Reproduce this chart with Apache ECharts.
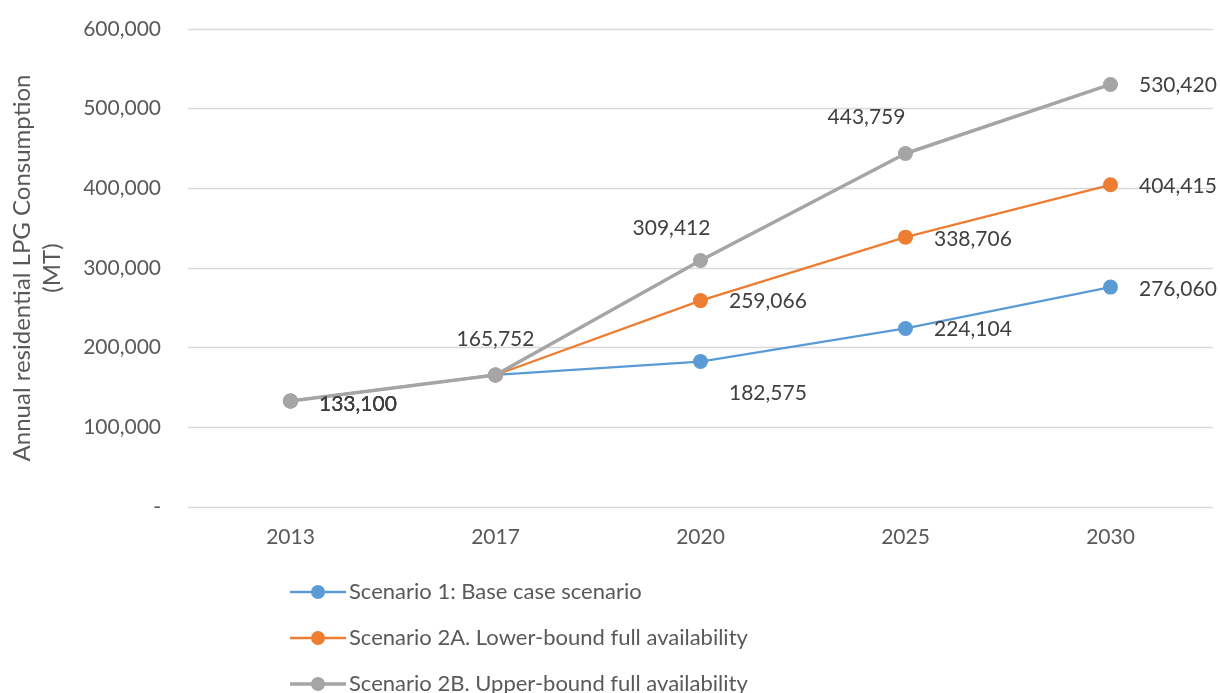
<!DOCTYPE html>
<html><head><meta charset="utf-8">
<script src="https://cdn.jsdelivr.net/npm/echarts@6/dist/echarts.min.js"></script>
<style>html,body{margin:0;padding:0;background:#fff}#c{width:1220px;height:693px}</style>
</head><body><div id="c"></div>
<script>
const categories = ['2013', '2017', '2020', '2025', '2030'];
const seriesNames = ['Scenario 1: Base case scenario', 'Scenario 2A. Lower-bound full availability', 'Scenario 2B. Upper-bound full availability'];
const scenario1 = [133100, 165752, 182575, 224104, 276060];
const scenario2A = [133100, 165752, 259066, 338706, 404415];
const scenario2B = [133100, 165752, 309412, 443759, 530420];
const yMin = 0, yMax = 600000, yStep = 100000;

const FONT = 'Lato';
const NUM = 21;
const fmt = v => v === 0 ? '-' : v.toLocaleString('en-US');

// label placements per series/point
const R = (dy) => ({ position: 'right', distance: 21, offset: [0, dy] });
const T = (dx, d) => ({ position: 'top', distance: d, offset: [dx, 0] });
const NONE = null;
const labelPlans = [
  [R(3), T(0, 18), R(32), R(1), R(2)],
  [R(3), NONE, R(1), R(2), R(1)],
  [R(3), NONE, T(-29, 14), T(-39, 18), R(1)]
];
const colors = ['#5B9BD5', '#ED7D31', '#A5A5A5'];
const widths = [2.25, 2.25, 3.5];
const legendLineW = [2.4, 2.4, 3.6];
const values = [scenario1, scenario2A, scenario2B];

function buildData(vals, plan) {
  return vals.map((v, i) => {
    const p = plan[i];
    if (!p) return { value: v, label: { show: false } };
    return { value: v, label: Object.assign({ show: true }, p) };
  });
}
function legendIcon(w) {
  const a = (7 - w / 2).toFixed(2), b = (7 + w / 2).toFixed(2);
  return 'path://M0,' + a + 'H56V' + b + 'H0Z M35,7A7,7 0 1 1 21,7A7,7 0 1 1 35,7Z';
}

const chart = echarts.init(document.getElementById('c'), null, { renderer: 'canvas' });
chart.setOption({
  animation: false,
  textStyle: { fontFamily: FONT },
  grid: { left: 188, right: 7, top: 29, bottom: 186, outerBoundsMode: 'none', containLabel: false },
  legend: {
    orient: 'vertical', left: 290, top: 581, height: 200, itemGap: 24, padding: 0,
    itemWidth: 56, itemHeight: 14,
    textStyle: { fontFamily: FONT, fontSize: 22, color: '#595959', padding: [0, 0, 0, -2] },
    data: seriesNames.map((n, k) => ({ name: n, icon: legendIcon(legendLineW[k]) }))
  },
  xAxis: {
    type: 'category', data: categories, boundaryGap: true,
    axisLine: { show: false }, axisTick: { show: false },
    axisLabel: { fontFamily: FONT, fontSize: NUM, color: '#595959', margin: 20 }
  },
  yAxis: {
    type: 'value', min: yMin, max: yMax, interval: yStep,
    name: 'Annual residential LPG Consumption\n(MT)',
    nameLocation: 'middle', nameGap: 121, nameRotate: 90,
    nameTextStyle: { fontFamily: FONT, fontSize: 24, color: '#595959', lineHeight: 30 },
    axisLine: { show: false }, axisTick: { show: false },
    splitLine: { lineStyle: { color: '#D9D9D9', width: 1.3 } },
    axisLabel: { fontFamily: FONT, fontSize: NUM, color: '#595959', margin: 27, formatter: fmt }
  },
  series: values.map((vals, k) => ({
    name: seriesNames[k], type: 'line', data: buildData(vals, labelPlans[k]),
    color: colors[k],
    lineStyle: { color: colors[k], width: widths[k] },
    itemStyle: { color: colors[k] },
    symbol: 'circle', symbolSize: 15,
    label: { fontFamily: FONT, fontSize: NUM, color: '#404040', formatter: p => fmt(p.value) },
    z: 2 + k
  }))
});
</script></body></html>
